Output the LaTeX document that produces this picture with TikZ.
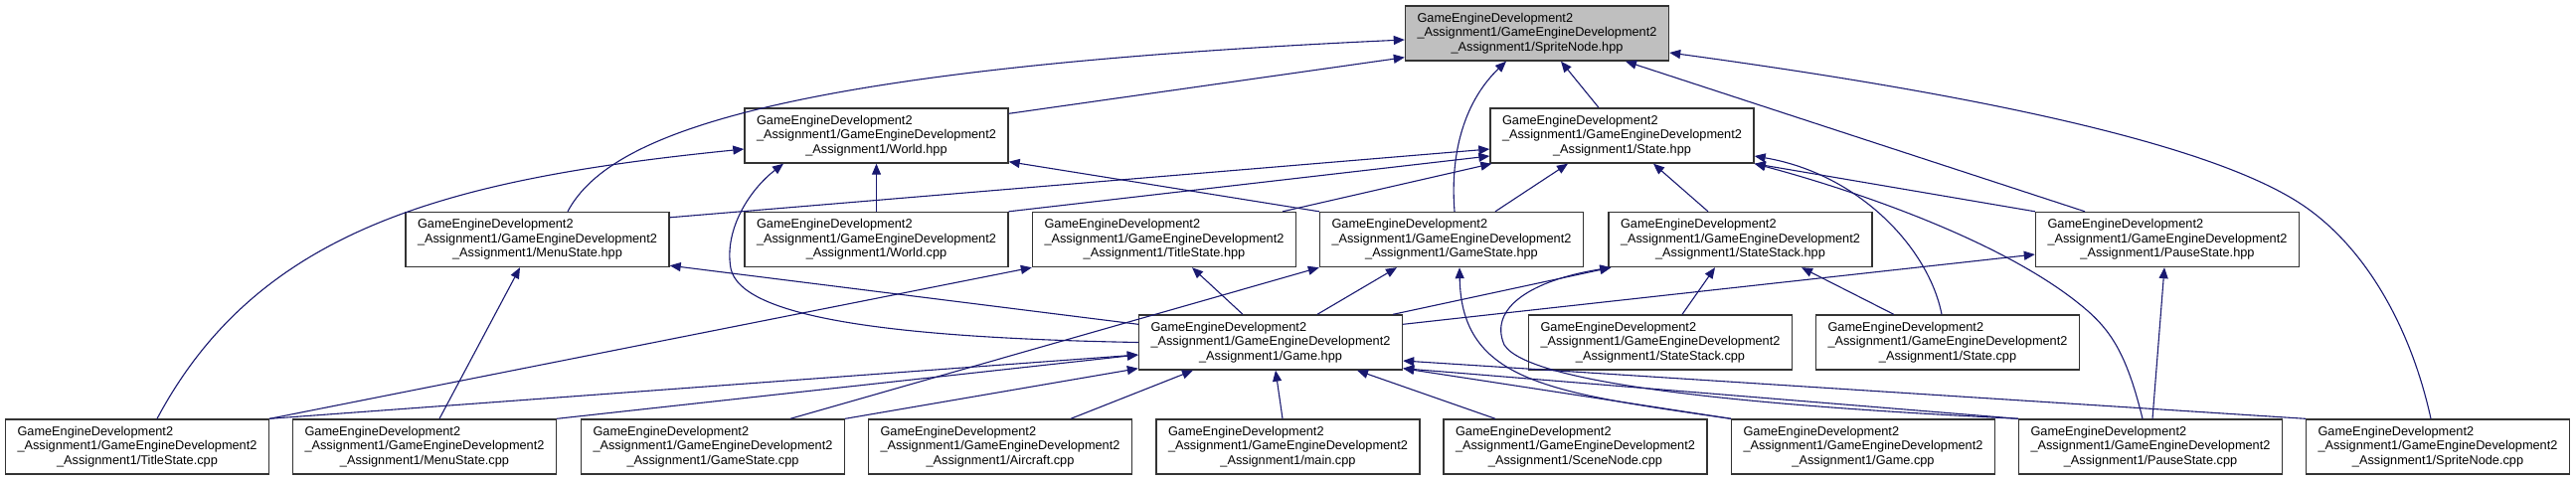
\documentclass[tikz,border=0pt]{standalone}
\usepackage{fontspec}
\setmainfont{Liberation Sans}
\usetikzlibrary{arrows.meta}
\definecolor{edgec}{HTML}{191970}
\definecolor{hl}{HTML}{BFBFBF}
\newcommand{\flbl}[1]{\makebox[241pt][l]{GameEngineDevelopment2}\\\makebox[241pt][l]{\_Assignment1/GameEngineDevelopment2}\\\makebox[241pt][c]{\_Assignment1/#1}}
\begin{document}
\begin{tikzpicture}[x=1pt,y=-1pt,
  filebox/.style={draw=black!80, line width=1.4pt, fill=white, minimum width=265pt, minimum height=55pt,
    inner xsep=12pt, inner ysep=0pt, align=left, font=\fontsize{12.75pt}{14.5pt}\selectfont},
  inc/.style={draw=edgec, line width=1.1pt, -{Triangle[length=11pt,width=9pt,fill=edgec]}}]
\useasboundingbox[fill=white] (0,0) rectangle (2591,483);
% row 0
\node[filebox, fill=hl] (sprite_h) at (1546,33.5) {\flbl{SpriteNode.hpp}};
% row 1
\node[filebox] (world_h) at (881.5,136.5) {\flbl{World.hpp}};
\node[filebox] (state_h) at (1631.5,136.5) {\flbl{State.hpp}};
% row 2
\node[filebox] (menu_h) at (540.5,241) {\flbl{MenuState.hpp}};
\node[filebox] (world_cpp) at (881.5,241) {\flbl{World.cpp}};
\node[filebox] (title_h) at (1171,241) {\flbl{TitleState.hpp}};
\node[filebox] (gs_h) at (1460,241) {\flbl{GameState.hpp}};
\node[filebox] (stack_h) at (1750.5,241) {\flbl{StateStack.hpp}};
\node[filebox] (pause_h) at (2180,241) {\flbl{PauseState.hpp}};
% row 3
\node[filebox] (game_h) at (1278,344.5) {\flbl{Game.hpp}};
\node[filebox] (stack_cpp) at (1670,344.5) {\flbl{StateStack.cpp}};
\node[filebox] (state_cpp) at (1959,344.5) {\flbl{State.cpp}};
% row 4
\node[filebox] (title_cpp) at (138,449.5) {\flbl{TitleState.cpp}};
\node[filebox] (menu_cpp) at (427,449.5) {\flbl{MenuState.cpp}};
\node[filebox] (gs_cpp) at (717,449.5) {\flbl{GameState.cpp}};
\node[filebox] (aircraft) at (1006,449.5) {\flbl{Aircraft.cpp}};
\node[filebox] (main_cpp) at (1295.5,449.5) {\flbl{main.cpp}};
\node[filebox] (scene) at (1584.5,449.5) {\flbl{SceneNode.cpp}};
\node[filebox] (game_cpp) at (1874,449.5) {\flbl{Game.cpp}};
\node[filebox] (pause_cpp) at (2163,449.5) {\flbl{PauseState.cpp}};
\node[filebox] (sprite_cpp) at (2452,449.5) {\flbl{SpriteNode.cpp}};
% edges to SpriteNode.hpp
\draw[inc] ([xshift=30.5pt]menu_h.north) .. controls (610,140) and (760,70) .. ([yshift=-6.5pt]sprite_h.west);
\draw[inc] ([yshift=-6pt]world_h.north east) -- ([yshift=4pt]sprite_h.south west);
\draw[inc] ([xshift=3pt]gs_h.north) .. controls (1458,150) and (1475,100) .. ([xshift=-31pt]sprite_h.south);
\draw[inc] ([xshift=-23.5pt]state_h.north) -- ([xshift=24pt]sprite_h.south);
\draw[inc] ([xshift=-83pt]pause_h.north) -- ([xshift=89pt]sprite_h.south);
\draw[inc] ([xshift=-7pt]sprite_cpp.north) .. controls (2425,330) and (2380,250) .. (2317,207) .. controls (2217,139) and (1950,90) .. ([yshift=-19.5pt]sprite_h.east);
% edges to World.hpp
\draw[inc] ([xshift=20pt]title_cpp.north) .. controls (260,230) and (450,180) .. ([yshift=-13.5pt]world_h.west);
\draw[inc] (world_cpp.north) -- (world_h.south);
\draw[inc] (gs_h.north west) -- ([yshift=2pt]world_h.south east);
\draw[inc] (game_h.west) .. controls (900,340) and (745,320) .. (735,270) .. controls (728,230) and (755,190) .. ([xshift=-93.5pt]world_h.south);
% edges to State.hpp
\draw[inc] ([yshift=-6pt]menu_h.north east) -- ([yshift=-13.5pt]state_h.west);
\draw[inc] (world_cpp.north east) -- ([yshift=-20.5pt]state_h.west);
\draw[inc] ([xshift=-14pt]title_h.north east) -- ([xshift=2pt]state_h.south west);
\draw[inc] ([xshift=44pt]gs_h.north) -- ([xshift=-54.5pt]state_h.south);
\draw[inc] ([xshift=-32.5pt]stack_h.north) -- ([xshift=31.5pt]state_h.south);
\draw[inc] (pause_h.north west) -- (state_h.south east);
\draw[inc] ([xshift=-6pt]state_cpp.north) .. controls (1940,250) and (1870,175) .. ([yshift=-20.5pt]state_h.east);
\draw[inc] ([xshift=-8pt]pause_cpp.north) .. controls (2140,360) and (2125,335) .. (2100,313) .. controls (2020,243) and (1860,190) .. (state_h.south east);
% edges from Game.hpp
\draw[inc] ([yshift=-10pt]game_h.north west) -- ([yshift=2pt]menu_h.south east);
\draw[inc] ([xshift=-28pt]game_h.north) -- ([xshift=28pt]title_h.south);
\draw[inc] ([xshift=47pt]game_h.north) -- ([xshift=-55pt]gs_h.south);
\draw[inc] ([xshift=-10pt]game_h.north east) -- ([xshift=3pt]stack_h.south west);
\draw[inc] ([yshift=-10pt]game_h.north east) -- ([yshift=-15pt]pause_h.west);
% edges from row 4
\draw[inc] ([xshift=15pt]menu_cpp.north) -- ([xshift=-17.5pt]menu_h.south);
\draw[inc] (title_cpp.north east) -- (title_h.south west);
\draw[inc] (title_cpp.north east) -- ([yshift=-12.5pt]game_h.west);
\draw[inc] (menu_cpp.north east) -- ([yshift=-12.5pt]game_h.west);
\draw[inc] (gs_cpp.north east) -- ([yshift=2pt]game_h.south west);
\draw[inc] ([xshift=78pt]gs_cpp.north) -- (gs_h.south west);
\draw[inc] ([xshift=71pt]aircraft.north) -- ([xshift=-78pt]game_h.south);
\draw[inc] ([xshift=-5.5pt]main_cpp.north) -- ([xshift=5pt]game_h.south);
\draw[inc] ([xshift=-80.5pt]scene.north) -- ([xshift=87pt]game_h.south);
\draw[inc] (game_cpp.north west) -- ([yshift=2pt]game_h.south east);
\draw[inc] (pause_cpp.north west) -- ([yshift=2pt]game_h.south east);
\draw[inc] (sprite_cpp.north west) -- ([yshift=-18.5pt]game_h.east);
\draw[inc] (game_cpp.north west) .. controls (1560,395) and (1470,385) .. ([xshift=8pt]gs_h.south);
\draw[inc] (pause_cpp.north west) .. controls (1800,410) and (1540,390) .. (1513,347) .. controls (1497,310) and (1540,282) .. ([xshift=3pt]stack_h.south west);
% edges to StateStack.hpp / PauseState.hpp
\draw[inc] ([xshift=22pt]stack_cpp.north) -- ([xshift=-25.5pt]stack_h.south);
\draw[inc] ([xshift=79pt]state_cpp.north west) -- ([xshift=61.5pt]stack_h.south);
\draw[inc] ([xshift=2pt]pause_cpp.north) -- ([xshift=-3pt]pause_h.south);
\end{tikzpicture}
\end{document}
